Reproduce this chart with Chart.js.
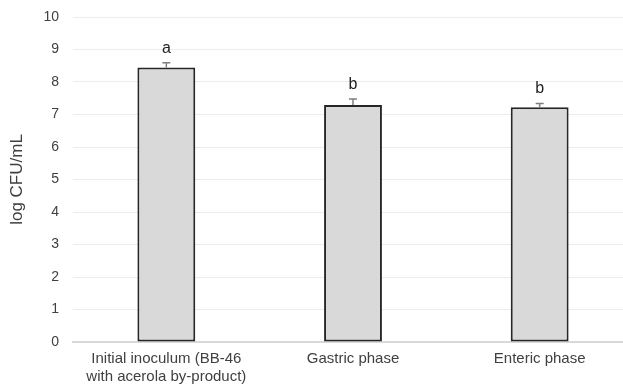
<!DOCTYPE html>
<html>
<head>
<meta charset="utf-8">
<script src="https://cdn.jsdelivr.net/npm/chart.js@4"></script>
<style>
  html, body { margin: 0; padding: 0; background: #fff; overflow: hidden; }
  #wrap { width: 633px; height: 385px; }
</style>
</head>
<body>
<div id="wrap"><canvas id="myChart"></canvas></div>
<script>
/* data */
const categories = [['Initial inoculum (BB-46', 'with acerola by-product)'], 'Gastric phase', 'Enteric phase'];
const means = [8.45, 7.29, 7.22];
const errors = [0.14, 0.19, 0.12];
const letters = ['a', 'b', 'b'];

// error bars + significance letters
const errorBars = {
  id: 'errorBars',
  afterDatasetsDraw(chart) {
    const ctx = chart.ctx;
    const meta = chart.getDatasetMeta(0);
    const y = chart.scales.y;
    ctx.save();
    meta.data.forEach(function(bar, i) {
      const top = y.getPixelForValue(means[i] + errors[i]);
      ctx.strokeStyle = '#7f7f7f';
      ctx.lineWidth = 1.5;
      ctx.beginPath();
      ctx.moveTo(bar.x, bar.y);
      ctx.lineTo(bar.x, top);
      ctx.moveTo(bar.x - 4, top);
      ctx.lineTo(bar.x + 4, top);
      ctx.stroke();

      ctx.fillStyle = '#222';
      ctx.font = '16px "Liberation Sans", Arial, sans-serif';
      ctx.textAlign = 'center';
      ctx.textBaseline = 'alphabetic';
      ctx.fillText(letters[i], bar.x, top - 10);
    });
    ctx.restore();
  }
};

var ctx = document.getElementById('myChart').getContext('2d');
var chart = new Chart(ctx, {
  type: 'bar',
  data: {
    labels: categories,
    datasets: [{
      data: means,
      backgroundColor: '#d9d9d9',
      borderColor: '#262626',
      borderWidth: 2,
      borderSkipped: false,
      barPercentage: 0.31,
      categoryPercentage: 1
    }]
  },
  options: {
    responsive: true,
    maintainAspectRatio: false,
    animation: false,
    layout: { padding: { top: 17, right: 0, left: 0, bottom: 0 } },
    plugins: {
      legend: { display: false },
      tooltip: { enabled: false }
    },
    scales: {
      x: {
        grid: { display: false, drawTicks: false },
        border: { display: true, color: '#d9d9d9', width: 2 },
        ticks: {
          color: '#404040',
          padding: 7,
          maxRotation: 0,
          autoSkip: false,
          font: { family: '"Liberation Sans", Arial, sans-serif', size: 15, lineHeight: 1.25 }
        },
        afterFit(scale) { scale.height = 43; }
      },
      y: {
        min: 0,
        max: 10,
        ticks: {
          stepSize: 1,
          color: '#404040',
          padding: 4,
          font: { family: '"Liberation Sans", Arial, sans-serif', size: 14 }
        },
        // invisible tick marks just push the labels left
        grid: { color: '#ececec', lineWidth: 1, drawTicks: true, tickLength: 10, tickColor: 'rgba(0,0,0,0)' },
        border: { display: false },
        title: {
          display: true,
          text: 'log CFU/mL',
          color: '#404040',
          padding: { top: 7, bottom: 0 },
          font: { family: '"Liberation Sans", Arial, sans-serif', size: 17 }
        },
        afterFit(scale) { scale.width = 73; }
      }
    }
  },
  plugins: [errorBars]
});
</script>
</body>
</html>
